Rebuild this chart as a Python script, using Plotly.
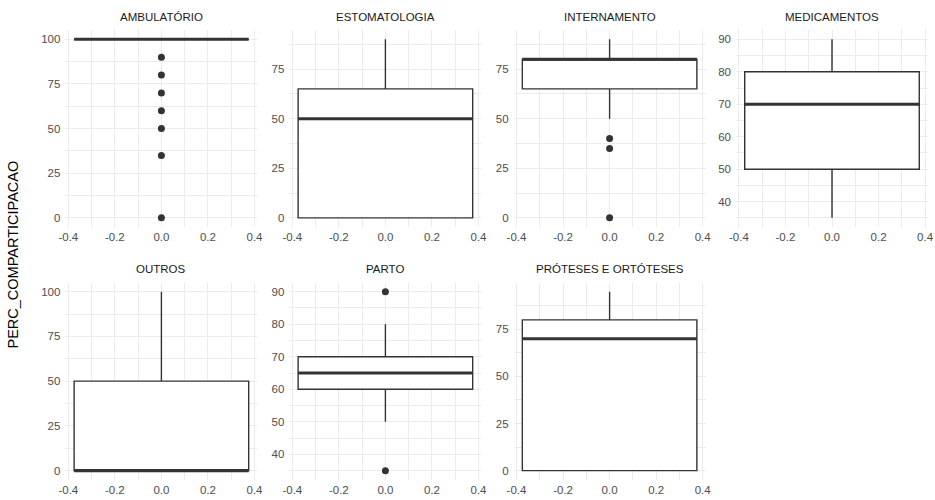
import plotly.graph_objects as go

categories = ["AMBULATÓRIO", "ESTOMATOLOGIA", "INTERNAMENTO", "MEDICAMENTOS",
              "OUTROS", "PARTO", "PRÓTESES E ORTÓTESES"]
q1 = [100, 0, 65, 50, 0, 60, 0]
median = [100, 50, 80, 70, 0, 65, 70]
q3 = [100, 65, 80, 80, 50, 70, 80]
lower = [100, 0, 50, 35, 0, 50, 0]
upper = [100, 90, 90, 90, 100, 80, 95]
outliers = [[90, 80, 70, 60, 50, 35, 0], [], [40, 35, 0], [], [], [90, 35], []]
y_dtick = [25, 25, 25, 10, 25, 10, 25]
x_tickvals = [-0.4, -0.2, 0.0, 0.2, 0.4]
x_ticktext = ["-0.4", "-0.2", "0.0", "0.2", "0.4"]
y_title = "PERC_COMPARTICIPACAO"

W, H = 935, 500
box_w = 0.75
col_left = [65.4, 289.4, 513.6, 736.0]
panel_w = 192.0
row_top = [30.4, 282.7]
row_bot = [226.8, 479.6]

LINE = "#333333"
GRID = "#EBEBEB"
FONT = "Liberation Sans, Arial, sans-serif"

fig = go.Figure()
layout = dict(
    width=W, height=H, margin=dict(l=0, r=0, t=0, b=0),
    paper_bgcolor="white", plot_bgcolor="white", showlegend=False,
    font=dict(family=FONT, color="#4D4D4D", size=11.5),
)
annotations = []

for i, cat in enumerate(categories):
    r, c = divmod(i, 4)
    n = i + 1
    xa = "x" if n == 1 else f"x{n}"
    ya = "y" if n == 1 else f"y{n}"
    xd = [col_left[c] / W, (col_left[c] + panel_w) / W]
    yd = [1 - row_bot[r] / H, 1 - row_top[r] / H]

    fig.add_trace(go.Box(
        x=[0], q1=[q1[i]], median=[median[i]], q3=[q3[i]],
        lowerfence=[lower[i]], upperfence=[upper[i]],
        width=box_w, whiskerwidth=0, boxpoints=False,
        line=dict(color=LINE, width=1.4), fillcolor="white",
        xaxis=xa, yaxis=ya, hoverinfo="skip",
    ))
    # thicker median line (ggplot fatten)
    fig.add_trace(go.Scatter(
        x=[-box_w / 2, box_w / 2], y=[median[i], median[i]], mode="lines",
        line=dict(color=LINE, width=3), xaxis=xa, yaxis=ya, hoverinfo="skip",
    ))
    if outliers[i]:
        fig.add_trace(go.Scatter(
            x=[0] * len(outliers[i]), y=outliers[i], mode="markers",
            marker=dict(color=LINE, size=7), xaxis=xa, yaxis=ya, hoverinfo="skip",
        ))

    vals = [lower[i], upper[i], q1[i], q3[i]] + outliers[i]
    lo, hi = min(vals), max(vals)
    pad = (hi - lo) * 0.05
    xpad = box_w * 0.05
    xr = [-box_w / 2 - xpad, box_w / 2 + xpad]

    axis_common = dict(showline=False, zeroline=False, ticks="", automargin=False,
                       showgrid=True, gridcolor=GRID, gridwidth=1.1,
                       ticklabeloverflow="allow",
                       tickfont=dict(family=FONT, color="#4D4D4D", size=11.5))
    layout["xaxis" if n == 1 else f"xaxis{n}"] = dict(
        domain=xd, range=xr, anchor=ya, tickvals=x_tickvals, ticktext=x_ticktext,
        ticklabelstandoff=2,
        minor=dict(tickvals=[-0.3, -0.1, 0.1, 0.3], showgrid=True, gridcolor=GRID,
                   gridwidth=0.6, ticks=""),
        **axis_common)
    d = y_dtick[i]
    layout["yaxis" if n == 1 else f"yaxis{n}"] = dict(
        domain=yd, range=[lo - pad, hi + pad], anchor=xa, tick0=0, dtick=d,
        ticklabelstandoff=4,
        minor=dict(tick0=d / 2, dtick=d, showgrid=True, gridcolor=GRID,
                   gridwidth=0.6, ticks=""),
        **axis_common)

    annotations.append(dict(
        text=cat, xref="paper", yref="paper",
        x=(col_left[c] + panel_w / 2) / W, y=1 - (row_top[r] - 13.5) / H,
        xanchor="center", yanchor="middle", showarrow=False,
        font=dict(family=FONT, color="#1A1A1A", size=11.5),
    ))

annotations.append(dict(
    text=y_title, xref="paper", yref="paper", x=12.5 / W,
    y=1 - ((row_top[0] + row_bot[1]) / 2) / H, textangle=-90,
    xanchor="center", yanchor="middle", showarrow=False,
    font=dict(family=FONT, color="#000000", size=14.5),
))
layout["annotations"] = annotations
fig.update_layout(**layout)
fig.write_html("out.html", config={"displayModeBar": False},
               post_script="document.body.style.margin='0';document.body.style.overflow='hidden';")
